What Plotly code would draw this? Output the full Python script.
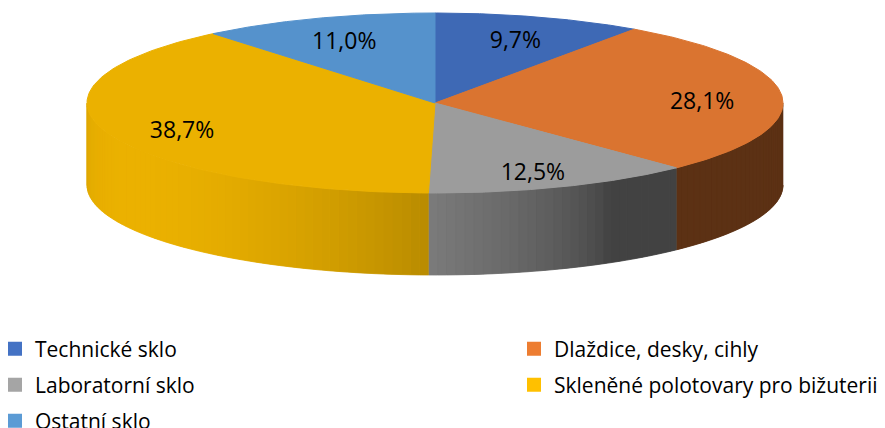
import numpy as np
import plotly.graph_objects as go

# ---- data ----
categories = ["Technické sklo", "Dlaždice, desky, cihly", "Laboratorní sklo",
              "Skleněné polotovary pro bižuterii", "Ostatní sklo"]
values = [9.7, 28.1, 12.5, 38.7, 11.0]
value_labels = ["9,7%", "28,1%", "12,5%", "38,7%", "11,0%"]

# ---- styles ----
top_colors = ["#3E69B5", "#DA7430", "#9C9C9C", "#EBB100", "#5592CC"]
legend_colors = ["#4472C4", "#ED7D31", "#A5A5A5", "#FFC000", "#5B9BD5"]
legend_ids = ["legend", "legend2", "legend3", "legend4", "legend5"]

W, H = 885, 428
CX, CY, RX, RY, DEPTH = 435, 103, 348, 90, 82
FONT = "Open Sans"


def pt(theta_deg, dy=0.0):
    t = np.radians(np.asarray(theta_deg, dtype=float))
    return CX + RX * np.sin(t), CY - RY * np.cos(t) + dy


def shade(hexcol, f):
    r, g, b = (int(hexcol[i:i + 2], 16) for i in (1, 3, 5))
    return f"rgb({min(255, round(r * f))},{min(255, round(g * f))},{min(255, round(b * f))})"


def light(theta):
    c = np.cos(np.radians(theta - 240))
    return 0.42 + 0.58 * max(c, 0.0) ** 0.7


def side_poly(s, e, n=4):
    ang = np.linspace(s, e, n)
    xt, yt = pt(ang)
    xb, yb = pt(ang[::-1], DEPTH)
    return np.concatenate([xt, xb]), np.concatenate([yt, yb])


total = sum(values)
bounds = np.concatenate([[0.0], np.cumsum(values) / total * 360.0])

fig = go.Figure()

# side walls (front half only)
for i in range(len(values)):
    a0, a1 = bounds[i], bounds[i + 1]
    lo, hi = max(a0, 90.0), min(a1, 270.0)
    if lo >= hi:
        continue
    bx, by = side_poly(lo, hi, 120)
    base = shade(top_colors[i], light((lo + hi) / 2))
    fig.add_trace(go.Scatter(x=bx, y=by, fill="toself", fillcolor=base, mode="lines",
                             line=dict(width=0, color=base), hoverinfo="skip",
                             showlegend=False))
    edges = np.append(np.arange(lo, hi, 1.5), hi)
    for s, e in zip(edges[:-1], edges[1:]):
        x, y = side_poly(s, e)
        col = shade(top_colors[i], light((s + e) / 2))
        fig.add_trace(go.Scatter(
            x=x, y=y, fill="toself", fillcolor=col, mode="lines",
            line=dict(width=0.8, color=col), hoverinfo="skip", showlegend=False))

# top faces
for i in range(len(values)):
    ang = np.linspace(bounds[i], bounds[i + 1], 120)
    xa, ya = pt(ang)
    fig.add_trace(go.Scatter(
        x=np.concatenate([[CX], xa, [CX]]), y=np.concatenate([[CY], ya, [CY]]),
        fill="toself", fillcolor=top_colors[i], mode="lines",
        line=dict(width=1, color=top_colors[i]), hoverinfo="skip", showlegend=False))

# data labels
mids = (bounds[:-1] + bounds[1:]) / 2
lx, ly = pt(mids)
lx = CX + (lx - CX) * 0.77
ly = CY + (ly - CY) * 0.78 + 6
fig.add_trace(go.Scatter(
    x=lx, y=ly, mode="text", text=value_labels,
    textfont=dict(family=FONT, size=23, color="#000000"),
    hoverinfo="skip", showlegend=False))

# legend entries
for i, name in enumerate(categories):
    fig.add_trace(go.Scatter(
        x=[None], y=[None], mode="markers", name=name,
        marker=dict(symbol="square", size=14, color=legend_colors[i]),
        legend=legend_ids[i], showlegend=True))

legend_common = dict(orientation="h", xanchor="left", yanchor="middle",
                     font=dict(family=FONT, size=21, color="#000000"),
                     bgcolor="rgba(0,0,0,0)", borderwidth=0)
col_x = [-5 / W, 514 / W]
row_y = [1 - 349 / H, 1 - 385 / H, 1 - 421 / H]
pos = [(0, 0), (1, 0), (0, 1), (1, 1), (0, 2)]

layout_legends = {}
for lid, (c, r) in zip(legend_ids, pos):
    layout_legends[lid] = dict(**legend_common, x=col_x[c], y=row_y[r])

fig.update_layout(
    width=W, height=H,
    margin=dict(l=0, r=0, t=0, b=0, autoexpand=False),
    paper_bgcolor="white", plot_bgcolor="white",
    xaxis=dict(range=[0, W], visible=False, fixedrange=True),
    yaxis=dict(range=[H, 0], visible=False, fixedrange=True),
    hovermode=False,
    **layout_legends,
)

fig.write_html("out.html", config={"displayModeBar": False},
               post_script="document.body.style.margin='0px';")
